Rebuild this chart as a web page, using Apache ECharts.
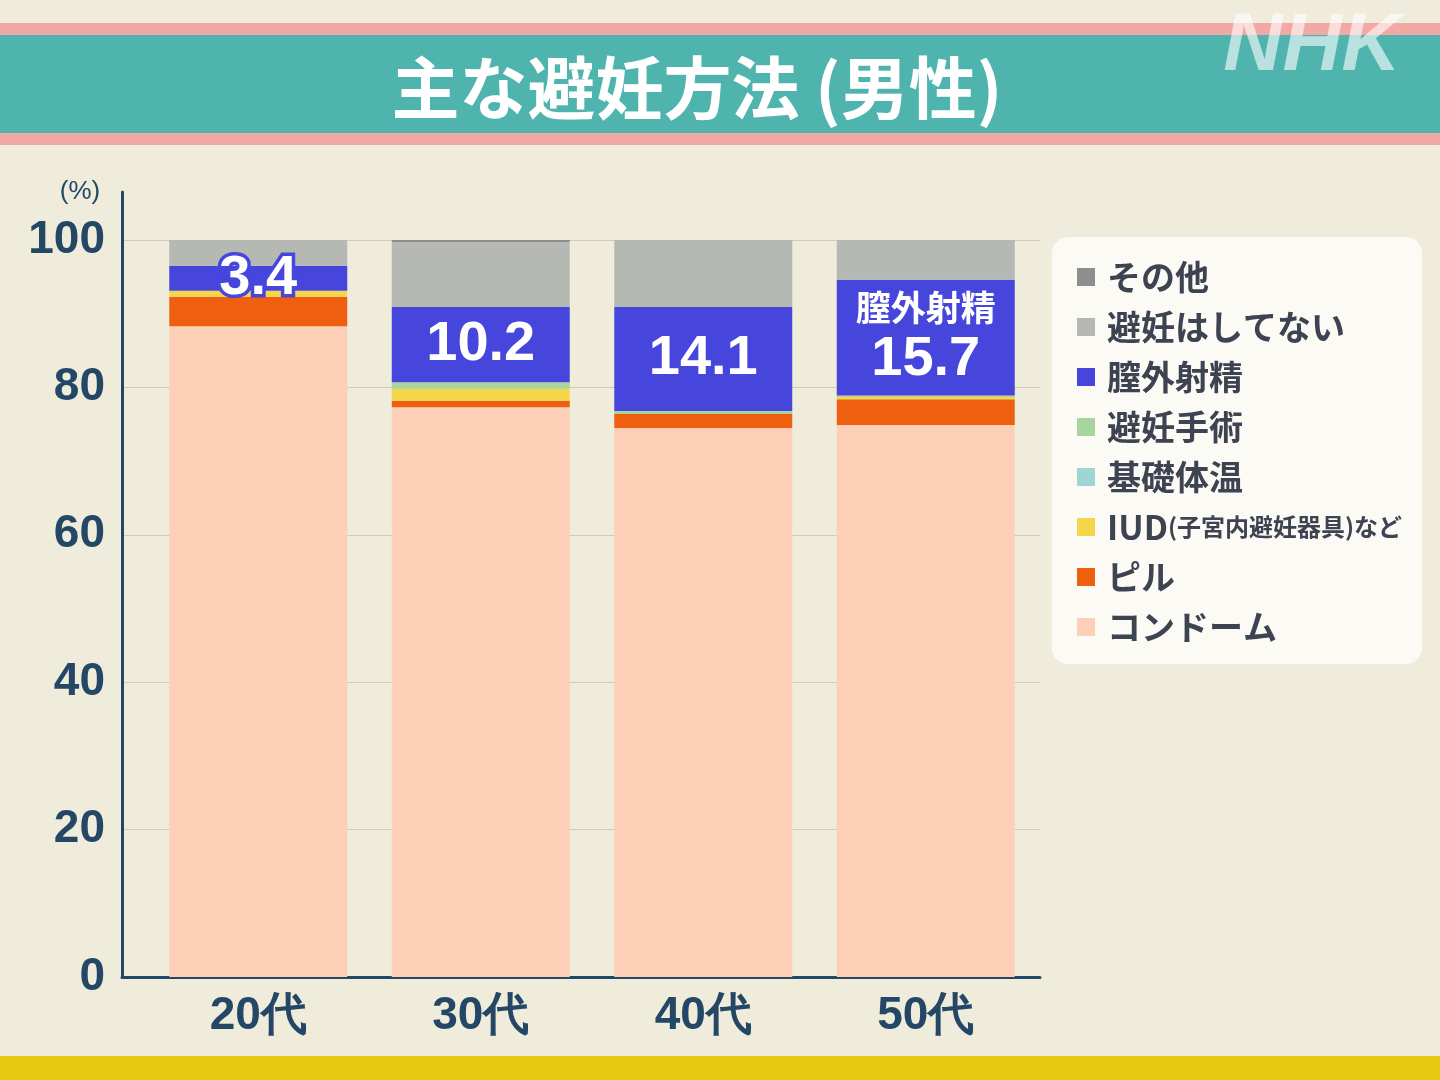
<!DOCTYPE html>
<html><head><meta charset="utf-8">
<script src="https://cdn.jsdelivr.net/npm/echarts@6/dist/echarts.min.js"></script>
<style>html,body{margin:0;padding:0;background:#efecdc}#c{width:1440px;height:1080px}</style>
</head><body><div id="c"></div>
<script>
const categories = ['20代','30代','40代','50代'];
const seriesNames = ['コンドーム','ピル','IUD(子宮内避妊器具)など','基礎体温','避妊手術','膣外射精','避妊はしてない','その他'];
const condom     = [88.3, 77.3, 74.5, 74.9];
const pill       = [4.0, 0.9, 1.9, 3.5];
const iud        = [0.8, 1.6, 0, 0.3];
const bbt        = [0, 0, 0, 0];
const surgery    = [0, 0.9, 0.4, 0.2];
const withdrawal = [3.4, 10.2, 14.1, 15.7];
const noneUsed   = [3.5, 8.8, 9.1, 5.4];
const other      = [0, 0.3, 0, 0];
const yTicks = [0, 20, 40, 60, 80, 100];

const colors = ['#fdcfb6','#ee6010','#f5d54a','#9fd6d4','#a8d4a0','#4646dd','#b5b8b3','#8e8e8e'];
const values = [condom, pill, iud, bbt, surgery, withdrawal, noneUsed, other];
const jp = '"Noto Sans CJK JP", sans-serif';
const num = '"Liberation Sans", sans-serif';
const navy = '#244766';

const chart = echarts.init(document.getElementById('c'), null, {renderer:'canvas'});

const vStyle = {fontFamily: num, fontWeight: 'bold', fontSize: 56, color: '#fff', lineHeight: 60};
const series = values.map((arr, k) => {
  const s = {
    name: seriesNames[k], type: 'bar', stack: 'all',
    xAxisIndex: 0, yAxisIndex: 0, barWidth: 178,
    itemStyle: {color: colors[k]},
    emphasis: {disabled: true},
    data: arr.slice()
  };
  if (k === 5) {
    s.label = {
      show: true, position: 'inside',
      formatter: p => p.dataIndex === 3 ? '{s|膣外射精}\n{v|' + p.value + '}' : '{v|' + p.value + '}',
      rich: {
        v: vStyle,
        s: {fontFamily: jp, fontWeight: 'bold', fontSize: 35, color: '#fff', lineHeight: 44}
      }
    };
    s.data = arr.map((v, i) => i === 0 ? {
      value: v,
      label: {rich: {v: Object.assign({}, vStyle, {textBorderColor: '#4646dd', textBorderWidth: 7})}}
    } : v);
  }
  return s;
});

const legendOrder = seriesNames.slice().reverse();

chart.setOption({
  backgroundColor: '#efecdc',
  animation: false,
  graphic: [
    {type:'rect', shape:{x:0, y:23, width:1440, height:12}, style:{fill:'#f2a9a6'}, z:-10},
    {type:'rect', shape:{x:0, y:35, width:1440, height:98}, style:{fill:'#4fb4ae'}, z:-10},
    {type:'rect', shape:{x:0, y:133, width:1440, height:12}, style:{fill:'#f2a9a6'}, z:-10},
    {type:'rect', shape:{x:0, y:1056, width:1440, height:24}, style:{fill:'#e7c912'}, z:-10},
    {type:'text', x:697, y:88, style:{text:'主な避妊方法 (男性)', fill:'#fff', font:'bold 68px "Noto Sans CJK JP", sans-serif', textAlign:'center', textVerticalAlign:'middle'}},
    {type:'text', x:1312, y:47, style:{text:'NHK', fill:'rgba(255,255,255,0.6)', font:'italic 900 82px "Liberation Sans", sans-serif', textAlign:'center', textVerticalAlign:'middle'}},
    {type:'text', x:80, y:192, style:{text:'(%)', fill:navy, font:'26px "Liberation Sans", sans-serif', textAlign:'center', textVerticalAlign:'middle'}},
    {type:'rect', shape:{x:1052, y:237, width:370, height:427, r:16}, style:{fill:'#fbfaf5'}, z:-5}
  ],
  legend: {
    orient: 'vertical', left: 1077, top: 260, padding: 0,
    data: legendOrder, icon: 'rect', itemWidth: 18, itemHeight: 18, itemGap: 16,
    selectedMode: false,
    formatter: n => n === 'IUD(子宮内避妊器具)など' ? '{a|IUD}{b|(子宮内避妊器具)など}' : '{a|' + n + '}',
    textStyle: {
      padding: [0,0,0,7],
      rich: {
        a: {fontFamily: jp, fontWeight: 'bold', fontSize: 34, color: '#3d4350', lineHeight: 36},
        b: {fontFamily: jp, fontWeight: 'bold', fontSize: 24, color: '#3d4350', lineHeight: 36}
      }
    }
  },
  grid: [
    {left: 147, top: 240, width: 890, height: 737},
    {left: 122, top: 240, width: 918, height: 737},
    {left: 122, top: 192, width: 918, height: 785}
  ],
  xAxis: [
    {type:'category', gridIndex:0, data: categories,
     axisLine:{show:false}, axisTick:{show:false},
     axisLabel:{fontFamily:num, fontWeight:'bold', fontSize:46, color:navy, margin:16}},
    {type:'category', gridIndex:1, data: categories,
     axisLine:{show:true, lineStyle:{color:navy, width:3}}, axisTick:{show:false}, axisLabel:{show:false}},
    {type:'category', gridIndex:2, data: categories, show:false}
  ],
  yAxis: [
    {type:'value', gridIndex:0, min:0, max:100, show:false},
    {type:'value', gridIndex:1, min:yTicks[0], max:yTicks[yTicks.length-1], interval:20,
     axisLine:{show:false}, axisTick:{show:false},
     splitLine:{show:true, lineStyle:{color:'#cfcbbd', width:1}},
     axisLabel:{fontFamily:num, fontWeight:'bold', fontSize:46, color:navy, margin:17}},
    {type:'value', gridIndex:2, min:0, max:106.5,
     axisLine:{show:true, lineStyle:{color:navy, width:3}}, axisTick:{show:false},
     axisLabel:{show:false}, splitLine:{show:false}}
  ],
  series: series
});
</script></body></html>
